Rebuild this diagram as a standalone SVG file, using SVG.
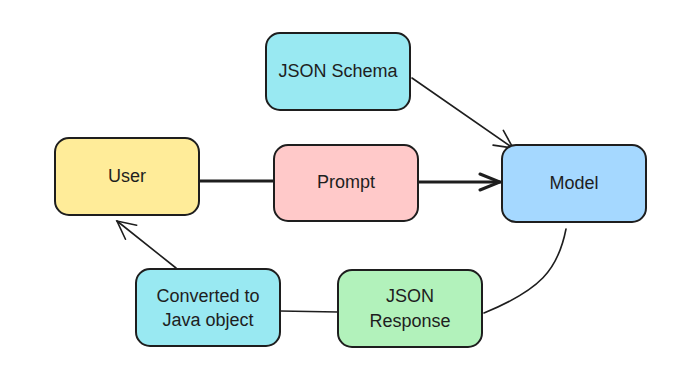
<svg xmlns="http://www.w3.org/2000/svg" width="681" height="383" viewBox="0 0 681 383">
<style>
.box{stroke:#1e1e1e;stroke-width:2}
.lbl{font-family:"Liberation Sans",Arial,sans-serif;font-size:18px;fill:#1e1e1e;text-anchor:middle;dominant-baseline:middle}
.c{fill:none;stroke:#1e1e1e;stroke-linecap:round;stroke-linejoin:round}
.thin{stroke-width:1.6}
.thick{stroke-width:3}
</style>
<defs>
<marker id="ah" viewBox="0 0 22 22" refX="20" refY="11" markerWidth="22" markerHeight="22" markerUnits="userSpaceOnUse" orient="auto">
<path d="M2,2 L20,11 L2,20" fill="none" stroke="#1e1e1e" stroke-width="1.6" stroke-linecap="round"/>
</marker>
<marker id="ahb" viewBox="0 0 24 24" refX="22" refY="12" markerWidth="24" markerHeight="24" markerUnits="userSpaceOnUse" orient="auto">
<path d="M2,4 L22,12 L2,20" fill="none" stroke="#1e1e1e" stroke-width="3" stroke-linecap="round"/>
</marker>
</defs>
<rect width="681" height="383" fill="#ffffff"/>
<g id="connectors">
<path class="c thick" d="M199,181 L274,181"/>
<path class="c thick" d="M418,182 L500,182" marker-end="url(#ahb)"/>
<path class="c thin" d="M412,78 L513,148" marker-end="url(#ah)"/>
<path class="c thin" d="M566,229 C558,270 540,290 484,313"/>
<path class="c thin" d="M338,312 L280,311"/>
<path class="c thin" d="M176,268 L117,221" marker-end="url(#ah)"/>
</g>
<g id="json-schema">
<rect class="box" x="266" y="33" width="144" height="77" rx="14" fill="#99e9f2"/>
<text class="lbl" x="338" y="72">JSON Schema</text>
</g>
<g id="user">
<rect class="box" x="55" y="138" width="144" height="77" rx="14" fill="#ffec99"/>
<text class="lbl" x="127" y="177">User</text>
</g>
<g id="prompt">
<rect class="box" x="274" y="145" width="144" height="76" rx="14" fill="#ffc9c9"/>
<text class="lbl" x="346" y="183">Prompt</text>
</g>
<g id="model">
<rect class="box" x="502" y="145" width="144" height="77" rx="14" fill="#a5d8ff"/>
<text class="lbl" x="574" y="184">Model</text>
</g>
<g id="converted">
<rect class="box" x="136" y="269" width="144" height="77" rx="14" fill="#99e9f2"/>
<text class="lbl" x="208" y="297">Converted to</text>
<text class="lbl" x="208" y="321">Java object</text>
</g>
<g id="json-response">
<rect class="box" x="338" y="270" width="144" height="77" rx="14" fill="#b2f2bb"/>
<text class="lbl" x="410" y="297">JSON</text>
<text class="lbl" x="410" y="322">Response</text>
</g>
</svg>
